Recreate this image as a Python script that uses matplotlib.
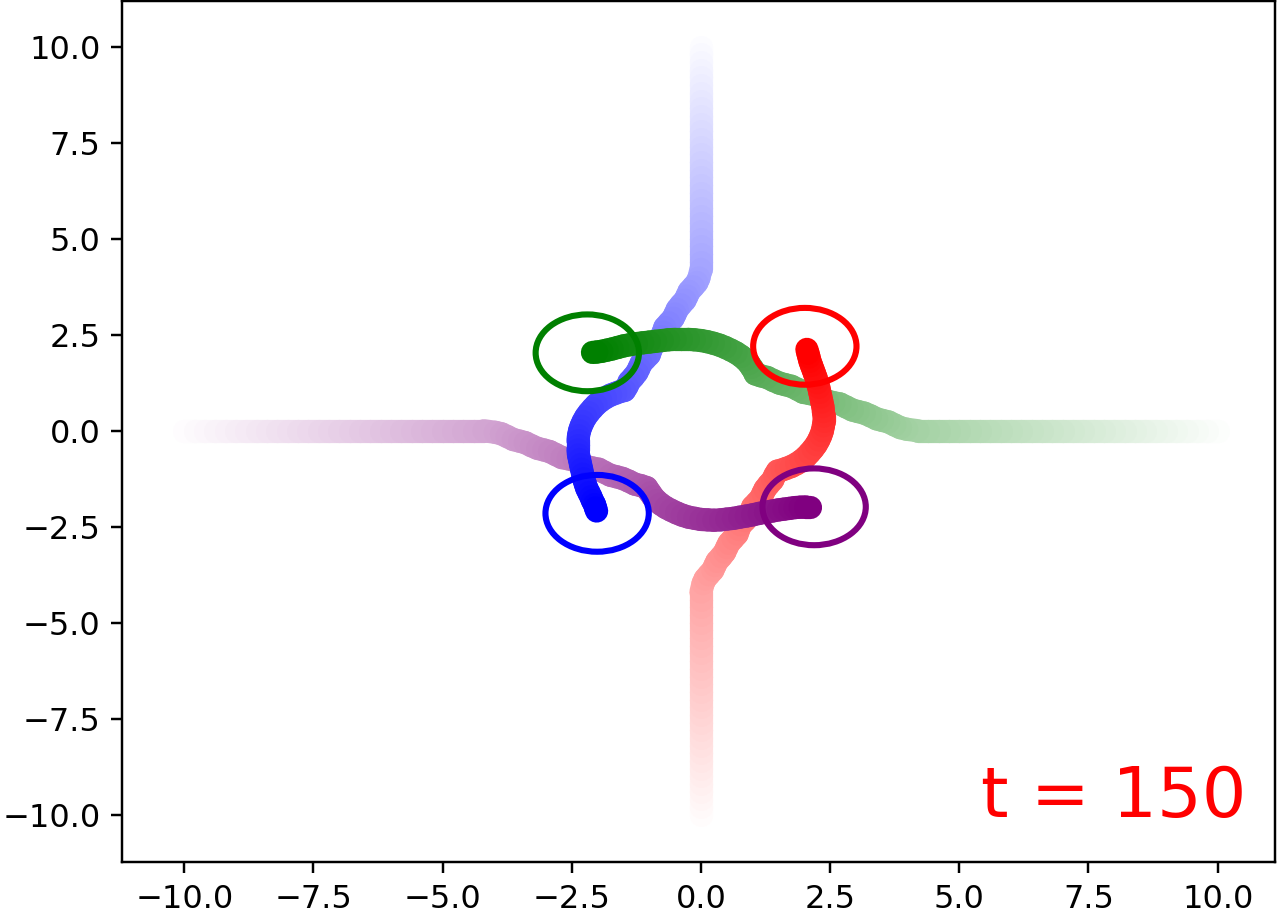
import matplotlib
matplotlib.use("Agg")
import matplotlib.pyplot as plt
from matplotlib.collections import LineCollection
from matplotlib.patches import Circle
import numpy as np

# ---- trajectories, one point per plotted step ----
straight_pos = [10.0, 9.8, 9.6, 9.4, 9.2, 9.0, 8.8, 8.6, 8.4, 8.2, 8.0, 7.8, 7.6, 7.4, 7.2,
                7.0, 6.8, 6.6, 6.4, 6.2, 6.0, 5.8, 5.6, 5.4, 5.2, 5.0, 4.8, 4.6, 4.4, 4.2]
straight_neg = [-10.0, -9.8, -9.6, -9.4, -9.2, -9.0, -8.8, -8.6, -8.4, -8.2, -8.0, -7.8, -7.6, -7.4, -7.2,
                -7.0, -6.8, -6.6, -6.4, -6.2, -6.0, -5.8, -5.6, -5.4, -5.2, -5.0, -4.8, -4.6, -4.4, -4.2]
straight_zero = [0.0] * 30

# blue: enters from the top
blue_x = straight_zero + [
    -0.04, -0.08, -0.15, -0.23, -0.27, -0.31, -0.39, -0.46, -0.50, -0.54, -0.62, -0.70, -0.73,
    -0.77, -0.85, -0.93, -0.97, -1.00, -1.08, -1.16, -1.20, -1.24, -1.31, -1.39, -1.43, -1.48,
    -1.57, -1.65, -1.75, -1.85, -1.94, -2.03, -2.10, -2.17, -2.23, -2.28, -2.32, -2.35, -2.37, -2.38, -2.38,
    -2.38, -2.37, -2.35, -2.33, -2.31, -2.29, -2.27, -2.24, -2.21, -2.17, -2.13, -2.10, -2.06, -2.04, -2.02]
blue_y = straight_pos + [
    3.98, 3.86, 3.75, 3.63, 3.51, 3.40, 3.28, 3.16, 3.04, 2.93, 2.81, 2.69, 2.57,
    2.45, 2.34, 2.22, 2.10, 1.98, 1.87, 1.75, 1.63, 1.52, 1.40, 1.28, 1.16, 1.05,
    1.02, 0.98, 0.93, 0.86, 0.78, 0.68, 0.58, 0.47, 0.36, 0.24, 0.12, 0.00, -0.13, -0.25, -0.38,
    -0.50, -0.63, -0.75, -0.88, -1.00, -1.13, -1.25, -1.38, -1.50, -1.61, -1.72, -1.82, -1.92, -2.01, -2.09]

# red: enters from the bottom
red_x = straight_zero + [
    0.04, 0.08, 0.15, 0.23, 0.27, 0.31, 0.39, 0.46, 0.50, 0.54, 0.62, 0.70, 0.73,
    0.77, 0.85, 0.93, 0.97, 1.00, 1.08, 1.16, 1.20, 1.24, 1.31, 1.39, 1.43, 1.48,
    1.57, 1.65, 1.75, 1.85, 1.94, 2.03, 2.10, 2.17, 2.23, 2.28, 2.32, 2.35, 2.37, 2.38, 2.38,
    2.37, 2.36, 2.34, 2.32, 2.30, 2.28, 2.25, 2.23, 2.20, 2.17, 2.14, 2.11, 2.09, 2.07, 2.05]
red_y = straight_neg + [
    -3.98, -3.86, -3.75, -3.63, -3.51, -3.40, -3.28, -3.16, -3.04, -2.93, -2.81, -2.69, -2.57,
    -2.45, -2.34, -2.22, -2.10, -1.98, -1.87, -1.75, -1.63, -1.52, -1.40, -1.28, -1.16, -1.05,
    -1.02, -0.98, -0.93, -0.86, -0.78, -0.68, -0.58, -0.47, -0.36, -0.24, -0.12, 0.00, 0.13, 0.25, 0.38,
    0.50, 0.63, 0.75, 0.88, 1.00, 1.13, 1.25, 1.37, 1.48, 1.59, 1.70, 1.81, 1.92, 2.02, 2.12]

# green: enters from the right
green_x = straight_pos + [
    3.98, 3.86, 3.75, 3.63, 3.51, 3.40, 3.28, 3.16, 3.04, 2.93, 2.81, 2.69, 2.57,
    2.45, 2.34, 2.22, 2.10, 1.98, 1.87, 1.75, 1.63, 1.52, 1.40, 1.28, 1.16, 1.05,
    1.02, 0.98, 0.93, 0.86, 0.78, 0.68, 0.58, 0.47, 0.36, 0.24, 0.12, 0.00, -0.13, -0.25, -0.38,
    -0.50, -0.63, -0.75, -0.88, -1.00, -1.13, -1.25, -1.38, -1.50, -1.61, -1.72, -1.82, -1.92, -2.02, -2.10]
green_y = straight_zero + [
    0.04, 0.08, 0.15, 0.23, 0.27, 0.31, 0.39, 0.46, 0.50, 0.54, 0.62, 0.70, 0.73,
    0.77, 0.85, 0.93, 0.97, 1.00, 1.08, 1.16, 1.20, 1.24, 1.31, 1.39, 1.43, 1.48,
    1.57, 1.65, 1.75, 1.85, 1.94, 2.03, 2.10, 2.17, 2.23, 2.28, 2.32, 2.35, 2.37, 2.38, 2.38,
    2.38, 2.37, 2.35, 2.33, 2.31, 2.29, 2.27, 2.24, 2.21, 2.17, 2.13, 2.10, 2.07, 2.05, 2.04]

# purple: enters from the left
purple_x = straight_neg + [
    -3.98, -3.86, -3.75, -3.63, -3.51, -3.40, -3.28, -3.16, -3.04, -2.93, -2.81, -2.69, -2.57,
    -2.45, -2.34, -2.22, -2.10, -1.98, -1.87, -1.75, -1.63, -1.52, -1.40, -1.28, -1.16, -1.05,
    -1.02, -0.98, -0.93, -0.86, -0.78, -0.68, -0.58, -0.47, -0.36, -0.24, -0.12, 0.00, 0.13, 0.25, 0.38,
    0.50, 0.63, 0.75, 0.88, 1.00, 1.13, 1.25, 1.38, 1.50, 1.61, 1.72, 1.82, 1.92, 2.02, 2.11]
purple_y = straight_zero + [
    -0.04, -0.08, -0.15, -0.23, -0.27, -0.31, -0.39, -0.46, -0.50, -0.54, -0.62, -0.70, -0.73,
    -0.77, -0.85, -0.93, -0.97, -1.00, -1.08, -1.16, -1.20, -1.24, -1.31, -1.39, -1.43, -1.48,
    -1.55, -1.62, -1.72, -1.82, -1.91, -2.00, -2.07, -2.14, -2.20, -2.25, -2.28, -2.31, -2.32, -2.33, -2.32,
    -2.30, -2.28, -2.25, -2.22, -2.19, -2.15, -2.12, -2.09, -2.06, -2.04, -2.02, -2.00, -1.99, -1.98, -1.98]

agent_colors = ["blue", "red", "green", "purple"]
circle_x = [-2.01, 2.01, -2.20, 2.19]
circle_y = [-2.15, 2.20, 2.03, -1.98]
circle_radius = 1.0
time_label = "t = 150"
ticks = [-10.0, -7.5, -5.0, -2.5, 0.0, 2.5, 5.0, 7.5, 10.0]

DPI = 220
fig = plt.figure(figsize=(1280 / DPI, 917 / DPI), dpi=DPI)
ax = fig.add_axes([122.3 / 1280, 55 / 917, 1152.7 / 1280, 861.3 / 917])

paths = [(blue_x, blue_y), (red_x, red_y), (green_x, green_y), (purple_x, purple_y)]
nseg = len(blue_x) - 1
segs, cols = [], []
for i in range(nseg):
    a = (i + 1) / nseg
    for (px, py), c in zip(paths, agent_colors):
        rgb = np.array(matplotlib.colors.to_rgb(c))
        blended = 1.0 - a * (1.0 - rgb)
        segs.append([(px[i], py[i]), (px[i + 1], py[i + 1])])
        cols.append(tuple(blended) + (1.0,))

lc = LineCollection(segs, colors=cols, linewidths=7.6, capstyle="round",
                    joinstyle="round", zorder=2)
ax.add_collection(lc)

for cx, cy, c in zip(circle_x, circle_y, agent_colors):
    ax.add_patch(Circle((cx, cy), circle_radius, fill=False, ec=c, lw=2.0, zorder=3))

ax.text(10.56, -10.05, time_label, color="red", fontsize=23, ha="right",
        va="baseline", zorder=4)

ax.set_xlim(-11.2, 11.11)
ax.set_ylim(-11.23, 11.2)
ax.set_xticks(ticks)
ax.set_yticks(ticks)
ax.tick_params(labelsize=10.5, length=3.6)

fig.savefig("out.png", dpi=DPI)
